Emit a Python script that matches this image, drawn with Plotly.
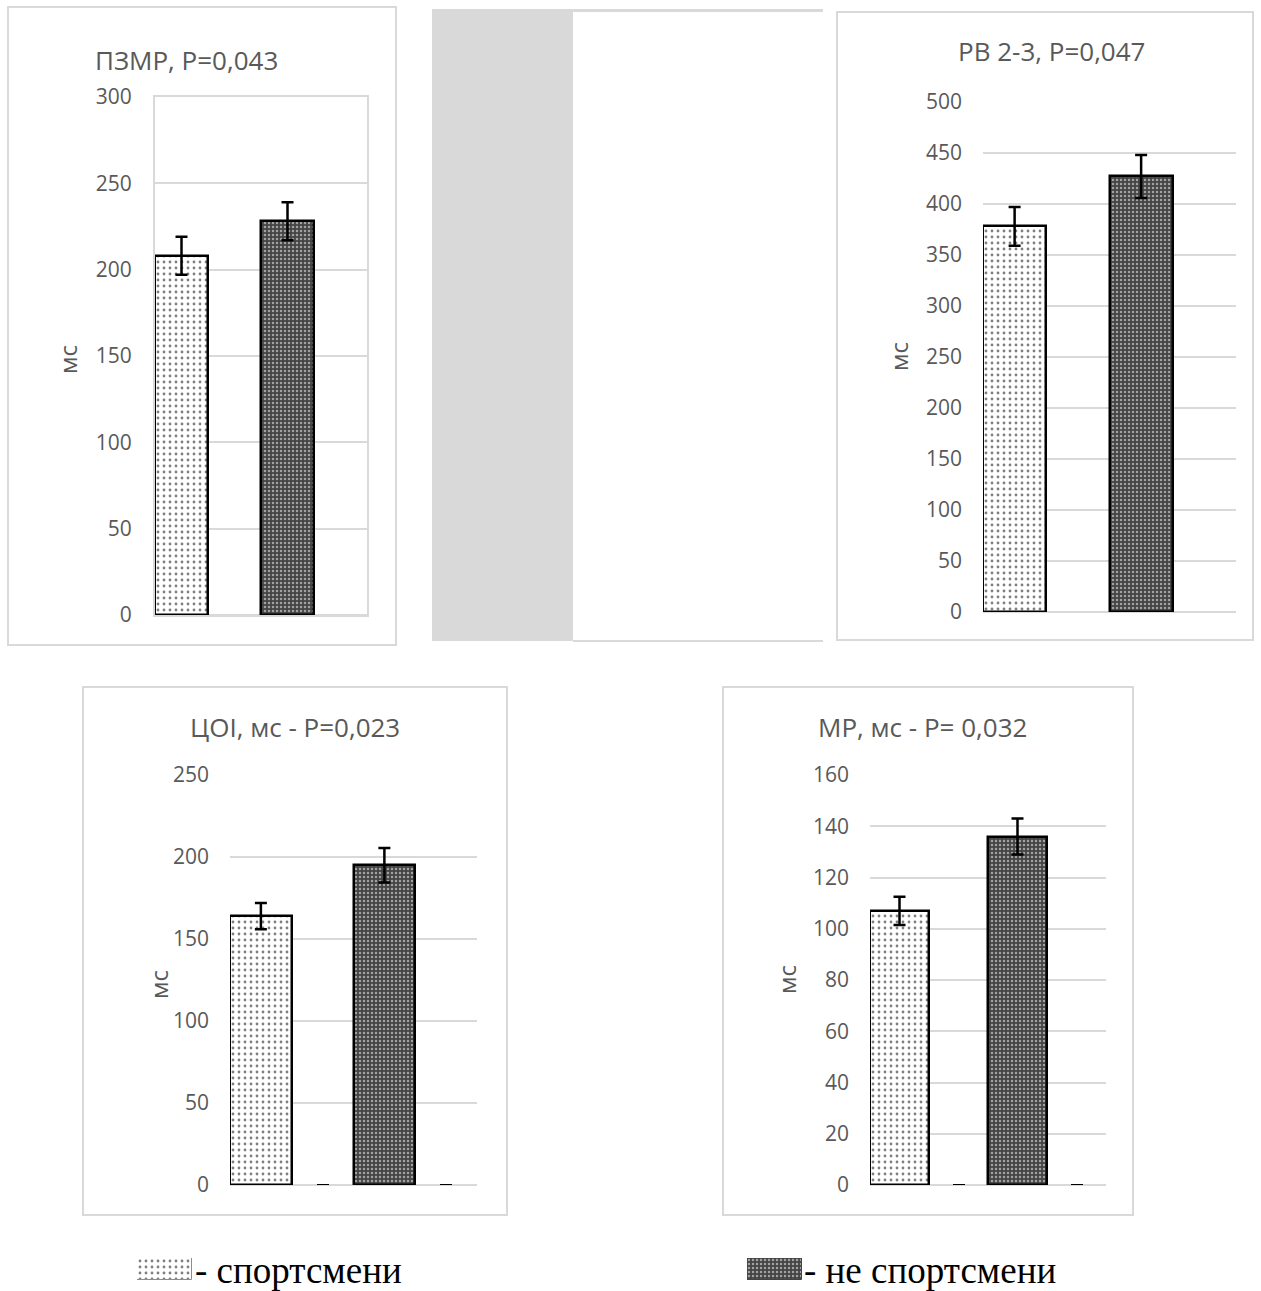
import plotly.graph_objects as go

# ---- data -------------------------------------------------------------
groups = ["спортсмени", "не спортсмени"]

pzmr_mean = [208, 228]
pzmr_err = [11, 11]

rv_mean = [378, 427]
rv_err = [19, 21]

coi_mean = [164, 195]
coi_err = [8, 10.5]

mr_mean = [107, 136]
mr_err = [5.5, 7]

empty_series = [0, 0]

titles = ["ПЗМР, P=0,043", "РВ 2-3, P=0,047", "ЦОI, мс - P=0,023", "МР, мс - P= 0,032"]
y_unit = "мс"
legend_labels = ["- спортсмени", "- не спортсмени"]

# ---- page geometry (pixels) -----------------------------------------------
W, H = 1261, 1291


def fx(x):
    return x / W


def fy(y):
    return 1 - y / H


GRID = "#d9d9d9"
TXT = "#595959"
FONT = "Open Sans"

# bar fill styles: dotted light for athletes, dark mesh for non-athletes
pat_shape = [".", "."]
fill_bg = ["#ffffff", "#444444"]
pat_fg = ["#000000", "#ffffff"]
pat_size = [6, 4]
pat_solid = [0.17, 0.3]

panels = [
    dict(mean=pzmr_mean, err=pzmr_err, ymax=300, dtick=50, zero_caps=False, frame_plot=True,
         plot=(155, 97, 367, 615), box=(8, 7, 396, 645), title_xy=(186, 60), unit_xy=(68, 360)),
    dict(mean=rv_mean, err=rv_err, ymax=500, dtick=50, zero_caps=False, frame_plot=False,
         plot=(983, 102, 1236, 612), box=(837, 12, 1253, 640), title_xy=(1051, 51), unit_xy=(898, 357)),
    dict(mean=coi_mean, err=coi_err, ymax=250, dtick=50, zero_caps=True, frame_plot=False,
         plot=(230, 775, 477, 1185), box=(83, 687, 507, 1215), title_xy=(295, 727), unit_xy=(158, 985)),
    dict(mean=mr_mean, err=mr_err, ymax=160, dtick=20, zero_caps=True, frame_plot=False,
         plot=(870, 775, 1106, 1185), box=(723, 687, 1133, 1215), title_xy=(922, 727), unit_xy=(786, 980)),
]


def bar_marker(k, line_color="#000000", line_width=2.5):
    return dict(
        color=fill_bg[k],
        line=dict(color=line_color, width=line_width),
        pattern=dict(shape=pat_shape[k], fgcolor=pat_fg[k], size=pat_size[k],
                     solidity=pat_solid[k], fillmode="overlay"),
    )


fig = go.Figure()
layout_axes = {}
shapes = []
annotations = []

for i, p in enumerate(panels):
    n = i + 1
    xa = "x" if n == 1 else f"x{n}"
    ya = "y" if n == 1 else f"y{n}"
    x0, y0, x1, y1 = p["plot"]

    # one bar per group, both in the first slot of their category
    for k in range(2):
        fig.add_trace(go.Bar(
            x=[groups[k]], y=[p["mean"][k]], xaxis=xa, yaxis=ya, showlegend=False,
            offsetgroup="main", marker=bar_marker(k),
            error_y=dict(type="data", array=[p["err"][k]], visible=True,
                         color="#000000", thickness=2.5, width=6),
        ))
    # empty companion series (second slot)
    fig.add_trace(go.Bar(
        x=groups, y=empty_series, xaxis=xa, yaxis=ya, showlegend=False,
        offsetgroup="empty", marker=dict(color="#ffffff", line=dict(width=0)),
        error_y=dict(type="data", array=empty_series, visible=p["zero_caps"],
                     color="#000000", thickness=2.5, width=6),
    ))

    kx = "xaxis" if n == 1 else f"xaxis{n}"
    ky = "yaxis" if n == 1 else f"yaxis{n}"
    layout_axes[kx] = dict(
        domain=[fx(x0), fx(x1)], anchor=ya, showticklabels=False, showgrid=False,
        zeroline=False, ticks="", fixedrange=True, automargin=False,
        categoryorder="array", categoryarray=groups,
        showline=p["frame_plot"], mirror=p["frame_plot"], linecolor=GRID, linewidth=2,
    )
    layout_axes[ky] = dict(
        domain=[fy(y1), fy(y0)], anchor=xa, range=[0, p["ymax"]], dtick=p["dtick"],
        showgrid=True, gridcolor=GRID, gridwidth=2, zeroline=True,
        zerolinecolor=GRID, zerolinewidth=2, ticks="",
        ticklabelstandoff=17 if p["frame_plot"] else 20,
        tickfont=dict(family=FONT, size=21, color=TXT), fixedrange=True, automargin=False,
        showline=p["frame_plot"], mirror=p["frame_plot"], linecolor=GRID, linewidth=2,
    )

    bx0, by0, bx1, by1 = p["box"]
    shapes.append(dict(type="rect", xref="paper", yref="paper",
                       x0=fx(bx0), x1=fx(bx1), y0=fy(by1), y1=fy(by0),
                       line=dict(color=GRID, width=2), fillcolor="rgba(0,0,0,0)", layer="below"))

    tx, ty = p["title_xy"]
    annotations.append(dict(text=titles[i], xref="paper", yref="paper", x=fx(tx), y=fy(ty),
                            xanchor="center", yanchor="middle", showarrow=False,
                            font=dict(family=FONT, size=26, color=TXT)))
    ux, uy = p["unit_xy"]
    annotations.append(dict(text=y_unit, xref="paper", yref="paper", x=fx(ux), y=fy(uy),
                            xanchor="center", yanchor="middle", showarrow=False, textangle=-90,
                            font=dict(family=FONT, size=24, color=TXT)))

# grey strip between the upper panels
shapes.append(dict(type="rect", xref="paper", yref="paper",
                   x0=fx(432), x1=fx(573), y0=fy(641), y1=fy(10),
                   line=dict(width=0), fillcolor=GRID, layer="below"))
shapes.append(dict(type="line", xref="paper", yref="paper",
                   x0=fx(432), x1=fx(823), y0=fy(10.5), y1=fy(10.5),
                   line=dict(color=GRID, width=3)))
shapes.append(dict(type="line", xref="paper", yref="paper",
                   x0=fx(573), x1=fx(823), y0=fy(641), y1=fy(641),
                   line=dict(color=GRID, width=2)))

# legend swatches drawn as single bars in their own small axes
swatches = [(137, 1258, 192, 1280), (747, 1258, 802, 1280)]
text_x = [193, 802]
for j, (sx0, sy0, sx1, sy1) in enumerate(swatches):
    n = 5 + j
    xa, ya = f"x{n}", f"y{n}"
    fig.add_trace(go.Bar(
        x=[groups[j]], y=[1], xaxis=xa, yaxis=ya, showlegend=False,
        marker=bar_marker(j, "#8c8c8c" if j == 0 else "#444444", 1),
    ))
    layout_axes[f"xaxis{n}"] = dict(domain=[fx(sx0), fx(sx1)], anchor=ya, visible=False,
                                    fixedrange=True, automargin=False)
    layout_axes[f"yaxis{n}"] = dict(domain=[fy(sy1), fy(sy0)], anchor=xa, visible=False,
                                    range=[0, 1], fixedrange=True, automargin=False)
    annotations.append(dict(text=legend_labels[j], xref="paper", yref="paper",
                            x=fx(text_x[j]), y=fy(1270), xanchor="left", yanchor="middle",
                            showarrow=False,
                            font=dict(family="Liberation Serif", size=37, color="#000000")))

fig.update_layout(
    width=W, height=H, margin=dict(l=0, r=0, t=0, b=0, pad=0, autoexpand=False),
    paper_bgcolor="#ffffff", plot_bgcolor="rgba(0,0,0,0)",
    barmode="group", bargap=0, bargroupgap=0,
    shapes=shapes, annotations=annotations, showlegend=False,
    **layout_axes,
)

fig.write_html("out.html", config={"displayModeBar": False})
